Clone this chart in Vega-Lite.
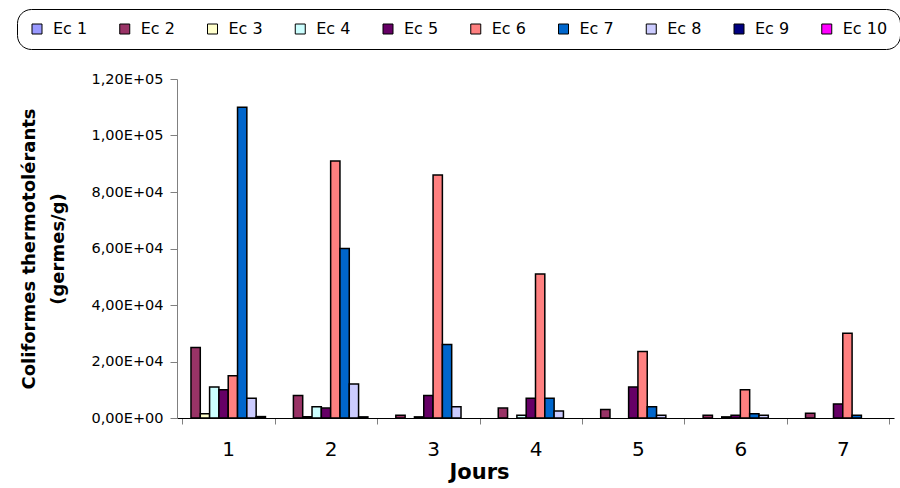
{
  "$schema": "https://vega.github.io/schema/vega-lite/v6.json",
  "autosize": {"type": "none"},
  "width": 717,
  "height": 339,
  "padding": {"left": 177, "top": 79, "right": 6, "bottom": 70},
  "background": "white",
  "config": {"view": {"stroke": null}},
  "data": {
    "values": [
      {"Jour": "1", "Serie": "Ec 1", "Valeur": 0},
      {"Jour": "1", "Serie": "Ec 2", "Valeur": 25000},
      {"Jour": "1", "Serie": "Ec 3", "Valeur": 1500},
      {"Jour": "1", "Serie": "Ec 4", "Valeur": 11000},
      {"Jour": "1", "Serie": "Ec 5", "Valeur": 10000},
      {"Jour": "1", "Serie": "Ec 6", "Valeur": 15000},
      {"Jour": "1", "Serie": "Ec 7", "Valeur": 110000},
      {"Jour": "1", "Serie": "Ec 8", "Valeur": 7000},
      {"Jour": "1", "Serie": "Ec 9", "Valeur": 500},
      {"Jour": "1", "Serie": "Ec 10", "Valeur": 0},
      {"Jour": "2", "Serie": "Ec 1", "Valeur": 0},
      {"Jour": "2", "Serie": "Ec 2", "Valeur": 8000},
      {"Jour": "2", "Serie": "Ec 3", "Valeur": 400},
      {"Jour": "2", "Serie": "Ec 4", "Valeur": 4000},
      {"Jour": "2", "Serie": "Ec 5", "Valeur": 3500},
      {"Jour": "2", "Serie": "Ec 6", "Valeur": 91000},
      {"Jour": "2", "Serie": "Ec 7", "Valeur": 60000},
      {"Jour": "2", "Serie": "Ec 8", "Valeur": 12000},
      {"Jour": "2", "Serie": "Ec 9", "Valeur": 400},
      {"Jour": "2", "Serie": "Ec 10", "Valeur": 0},
      {"Jour": "3", "Serie": "Ec 1", "Valeur": 0},
      {"Jour": "3", "Serie": "Ec 2", "Valeur": 1000},
      {"Jour": "3", "Serie": "Ec 3", "Valeur": 0},
      {"Jour": "3", "Serie": "Ec 4", "Valeur": 400},
      {"Jour": "3", "Serie": "Ec 5", "Valeur": 8000},
      {"Jour": "3", "Serie": "Ec 6", "Valeur": 86000},
      {"Jour": "3", "Serie": "Ec 7", "Valeur": 26000},
      {"Jour": "3", "Serie": "Ec 8", "Valeur": 4000},
      {"Jour": "3", "Serie": "Ec 9", "Valeur": 0},
      {"Jour": "3", "Serie": "Ec 10", "Valeur": 0},
      {"Jour": "4", "Serie": "Ec 1", "Valeur": 0},
      {"Jour": "4", "Serie": "Ec 2", "Valeur": 3500},
      {"Jour": "4", "Serie": "Ec 3", "Valeur": 0},
      {"Jour": "4", "Serie": "Ec 4", "Valeur": 1000},
      {"Jour": "4", "Serie": "Ec 5", "Valeur": 7000},
      {"Jour": "4", "Serie": "Ec 6", "Valeur": 51000},
      {"Jour": "4", "Serie": "Ec 7", "Valeur": 7000},
      {"Jour": "4", "Serie": "Ec 8", "Valeur": 2500},
      {"Jour": "4", "Serie": "Ec 9", "Valeur": 0},
      {"Jour": "4", "Serie": "Ec 10", "Valeur": 0},
      {"Jour": "5", "Serie": "Ec 1", "Valeur": 0},
      {"Jour": "5", "Serie": "Ec 2", "Valeur": 3000},
      {"Jour": "5", "Serie": "Ec 3", "Valeur": 0},
      {"Jour": "5", "Serie": "Ec 4", "Valeur": 0},
      {"Jour": "5", "Serie": "Ec 5", "Valeur": 11000},
      {"Jour": "5", "Serie": "Ec 6", "Valeur": 23500},
      {"Jour": "5", "Serie": "Ec 7", "Valeur": 4000},
      {"Jour": "5", "Serie": "Ec 8", "Valeur": 1000},
      {"Jour": "5", "Serie": "Ec 9", "Valeur": 0},
      {"Jour": "5", "Serie": "Ec 10", "Valeur": 0},
      {"Jour": "6", "Serie": "Ec 1", "Valeur": 0},
      {"Jour": "6", "Serie": "Ec 2", "Valeur": 1000},
      {"Jour": "6", "Serie": "Ec 3", "Valeur": 0},
      {"Jour": "6", "Serie": "Ec 4", "Valeur": 400},
      {"Jour": "6", "Serie": "Ec 5", "Valeur": 1000},
      {"Jour": "6", "Serie": "Ec 6", "Valeur": 10000},
      {"Jour": "6", "Serie": "Ec 7", "Valeur": 1500},
      {"Jour": "6", "Serie": "Ec 8", "Valeur": 1000},
      {"Jour": "6", "Serie": "Ec 9", "Valeur": 0},
      {"Jour": "6", "Serie": "Ec 10", "Valeur": 0},
      {"Jour": "7", "Serie": "Ec 1", "Valeur": 0},
      {"Jour": "7", "Serie": "Ec 2", "Valeur": 1700},
      {"Jour": "7", "Serie": "Ec 3", "Valeur": 0},
      {"Jour": "7", "Serie": "Ec 4", "Valeur": 0},
      {"Jour": "7", "Serie": "Ec 5", "Valeur": 5000},
      {"Jour": "7", "Serie": "Ec 6", "Valeur": 30000},
      {"Jour": "7", "Serie": "Ec 7", "Valeur": 1000},
      {"Jour": "7", "Serie": "Ec 8", "Valeur": 0},
      {"Jour": "7", "Serie": "Ec 9", "Valeur": 0},
      {"Jour": "7", "Serie": "Ec 10", "Valeur": 0}
    ]
  },
  "mark": {"type": "bar", "stroke": "black", "strokeWidth": 1.5},
  "encoding": {
    "x": {
      "field": "Jour",
      "type": "nominal",
      "scale": {"paddingInner": 0.0909, "paddingOuter": 0.0455},
      "axis": {
        "title": "Jours",
        "titleFont": "DejaVu Sans",
        "titleFontWeight": "bold",
        "titleFontSize": 21,
        "titleColor": "black",
        "titleX": 302,
        "titleY": 60,
        "titleBaseline": "alphabetic",
        "labelAngle": 0,
        "labelFont": "DejaVu Sans",
        "labelFontSize": 20,
        "labelColor": "black",
        "labelBaseline": "alphabetic",
        "labelPadding": 31,
        "tickBand": "extent",
        "tickSize": 6,
        "tickColor": "#808080",
        "domainColor": "black",
        "grid": false
      }
    },
    "xOffset": {
      "field": "Serie",
      "type": "nominal",
      "scale": {
        "domain": ["Ec 1", "Ec 2", "Ec 3", "Ec 4", "Ec 5", "Ec 6", "Ec 7", "Ec 8", "Ec 9", "Ec 10"],
        "paddingInner": 0,
        "paddingOuter": 0
      }
    },
    "y": {
      "field": "Valeur",
      "type": "quantitative",
      "scale": {"domain": [0, 120000], "nice": false},
      "axis": {
        "title": ["Coliformes thermotolérants", "(germes/g)"],
        "titleFont": "DejaVu Sans",
        "titleFontWeight": "bold",
        "titleFontSize": 18,
        "titleLineHeight": 29,
        "titleColor": "black",
        "titleAngle": -90,
        "titleAlign": "center",
        "titleBaseline": "alphabetic",
        "titleX": -143,
        "titleY": 169.5,
        "values": [0, 20000, 40000, 60000, 80000, 100000, 120000],
        "labelExpr": "replace(replace(upper(format(datum.value, '.2e')), '.', ','), 'E+', 'E+0')",
        "labelFont": "DejaVu Sans",
        "labelFontSize": 14.5,
        "labelColor": "black",
        "labelPadding": 7,
        "tickSize": 7,
        "tickColor": "#808080",
        "domainColor": "#808080",
        "grid": false
      }
    },
    "strokeOpacity": {
      "condition": {"test": "datum.Valeur > 0", "value": 1},
      "value": 0
    },
    "color": {
      "field": "Serie",
      "type": "nominal",
      "scale": {
        "domain": ["Ec 1", "Ec 2", "Ec 3", "Ec 4", "Ec 5", "Ec 6", "Ec 7", "Ec 8", "Ec 9", "Ec 10"],
        "range": ["#9999FF", "#993366", "#FFFFCC", "#CCFFFF", "#660066", "#FF8080", "#0066CC", "#CCCCFF", "#000080", "#FF00FF"]
      },
      "legend": {
        "title": null,
        "orient": "none",
        "legendX": -160,
        "legendY": -70,
        "direction": "horizontal",
        "columns": 10,
        "gridAlign": "all",
        "columnPadding": 18.75,
        "symbolType": "square",
        "symbolSize": 100,
        "symbolStrokeColor": "black",
        "symbolStrokeWidth": 1,
        "symbolOpacity": 1,
        "labelFont": "DejaVu Sans",
        "labelFontSize": 16,
        "labelColor": "black",
        "labelOffset": 8,
        "padding": 12,
        "strokeColor": "black",
        "cornerRadius": 14,
        "fillColor": "white"
      }
    }
  }
}
